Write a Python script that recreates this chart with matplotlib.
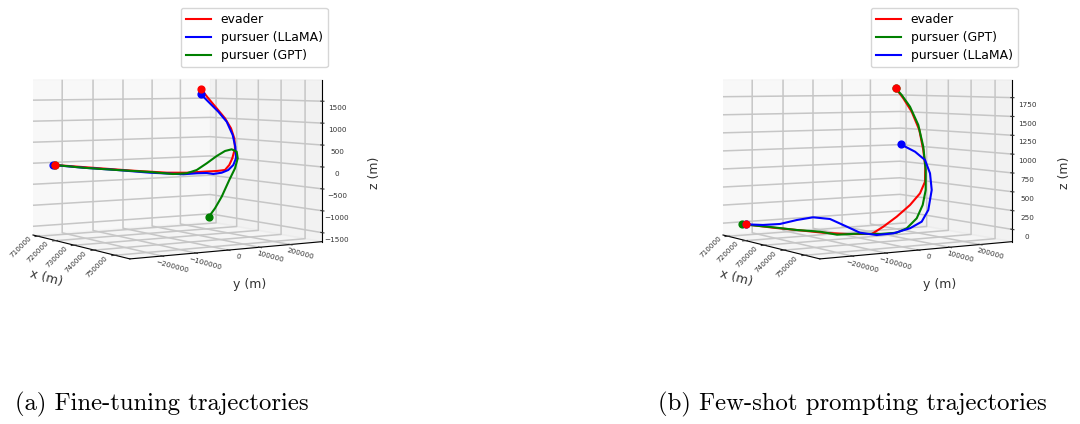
import numpy as np
import matplotlib
matplotlib.use("Agg")
import matplotlib.pyplot as plt

XLIM = (707000, 756700)
YLIM = (-292000, 308000)
ZA = (-1707, 1984)
ZB = (-164, 1984)

x_ticks = [710000, 720000, 730000, 740000, 750000]
y_ticks = [-200000, -100000, 0, 100000, 200000]
z_a = [-1500, -1000, -500, 0, 500, 1000, 1500]
z_b = [0, 250, 500, 750, 1000, 1250, 1500, 1750]

x_17 = [711970, 714455, 716940, 719425, 721910, 724395, 726880, 729365, 731850, 734335, 736820, 739305, 741790, 744275, 746760, 749245, 751730]
x_18 = [711970, 714309, 716648, 718986, 721325, 723664, 726003, 728342, 730680, 733019, 735358, 737697, 740036, 742374, 744713, 747052, 749391, 751730]

a_evader_y = [-250300, -121800, -29400, 68000, 117900, 156200, 185400, 195600, 191800, 183300, 173600, 152200, 122300, 83700, 38300, -6700, -47600]
a_evader_z = [-28, -134, -208, -275, -278, -252, -230, -194, -58, 118, 369, 620, 867, 1111, 1349, 1582, 1792]
a_llama_y = [-255600, -175400, -80000, 13800, 110400, 139800, 157300, 162900, 174400, 179500, 178900, 170300, 150000, 123500, 86000, 41300, -7800, -47600]
a_llama_z = [-26, -103, -176, -259, -317, -289, -274, -285, -244, -167, -35, 139, 427, 714, 1034, 1273, 1507, 1676]
a_gpt_y = [-250300, -175400, -80000, 13800, 75300, 105600, 123000, 140300, 157300, 168200, 173400, 172600, 158100, 131200, 94500, 52200, 13400, -23600]
a_gpt_z = [-28, -103, -176, -242, -298, -277, -190, -21, 161, 289, 339, 293, 155, -56, -297, -642, -866, -1020]

b_evader_y = [-248100, -175300, -115200, -45300, 17700, 83500, 105200, 132800, 159900, 175400, 173600, 155600, 129900, 97900, 54400, 9100, -32900]
b_evader_z = [-3, -59, -96, -142, -167, -174, -65, 79, 246, 415, 586, 803, 1041, 1319, 1569, 1749, 1881]
b_gpt_y = [-258700, -175400, -113400, -52300, -11500, 39200, 100300, 140300, 157300, 174000, 176800, 169200, 151400, 125500, 91300, 46800, 3000, -32900]
b_gpt_z = [1, -54, -98, -128, -170, -159, -170, -152, -83, 63, 258, 476, 762, 1088, 1387, 1635, 1792, 1881]
b_llama_y = [-248100, -207000, -166800, -126700, -89800, -49700, -9600, 17300, 56300, 94900, 133800, 155700, 160100, 153600, 129900, 95500, 45400, -17300]
b_llama_z = [-3, -12, 2, 57, 95, 72, -34, -112, -143, -119, -49, 47, 217, 500, 738, 929, 1053, 1164]

W, H = 1080, 424
fig = plt.figure(figsize=(10.8, 4.24), dpi=100)


def make_proj(ax, dx):
    # camera looking level, lens shifted: vertical edges stay parallel
    def get_proj():
        x0, x1 = ax.get_xlim3d()
        y0, y1 = ax.get_ylim3d()
        z0, z1 = ax.get_zlim3d()
        world = np.array([[1/(x1-x0), 0, 0, -x0/(x1-x0)],
                          [0, 1/(y1-y0), 0, -y0/(y1-y0)],
                          [0, 0, 1/(z1-z0), -z0/(z1-z0)],
                          [0, 0, 0, 1.]])
        den = np.array([-.13, .09, 0, 1.])
        rX = np.array([80., 196., 0, 33.]) + dx*den
        yh, K, t = 75., 160., .97
        rYpx = yh*den + np.array([0, 0, -K*t, K])
        rY = H*den - rYpx
        A2 = ax.transData.inverted().get_matrix()
        r0 = A2[0, 0]*rX + A2[0, 2]*den
        r1 = A2[1, 1]*rY + A2[1, 2]*den
        S = np.array([r0, r1, [0, 0, 0, -1.], den])
        return S @ world
    ax.get_proj = get_proj


def shift(ax, text, dx, dy):
    # move a label by some pixels whenever the 3D axis places it
    place = text.set_position

    def moved(xy):
        m = ax.transData.inverted().get_matrix()
        place((xy[0] + m[0, 0]*dx, xy[1] - m[1, 1]*dy))
    text.set_position = moved


def panel(rect, dx, zlim, zt):
    ax = fig.add_axes([rect[0]/W, 1-(rect[1]+rect[3])/H, rect[2]/W, rect[3]/H], projection='3d')
    ax.patch.set_alpha(0)
    ax.computed_zorder = False
    ax.view_init(elev=10, azim=-28)
    ax.set_xlim(*XLIM)
    ax.set_ylim(*YLIM)
    ax.set_zlim(*zlim)
    ax.set_xticks(x_ticks)
    ax.set_yticks(y_ticks)
    ax.set_zticks(zt)
    ax.tick_params(labelsize=5.2, pad=0, colors='#333333')
    for axis in (ax.xaxis, ax.yaxis, ax.zaxis):
        axis._axinfo['grid'].update(color='#c6c6c6', linewidth=1.1)
        axis.set_rotate_label(False)
    for t in ax.xaxis.get_major_ticks():
        t.label1.set_rotation(45)
        shift(ax, t.label1, -8, -10)
    for t in ax.yaxis.get_major_ticks():
        t.label1.set_rotation(-15)
        shift(ax, t.label1, 4, -7)
    for t in ax.zaxis.get_major_ticks():
        shift(ax, t.label1, 0, 4)
    ax.set_xlabel('x (m)', fontsize=9, labelpad=2, rotation=-15, color='#333333')
    shift(ax, ax.xaxis.label, -2, 5)
    ax.set_ylabel('y (m)', fontsize=9, labelpad=2, rotation=0, color='#333333')
    shift(ax, ax.yaxis.label, 1, 6)
    ax.set_zlabel('z (m)', fontsize=9, labelpad=2, rotation=90, color='#333333')
    shift(ax, ax.zaxis.label, 9, 11)
    make_proj(ax, dx)
    return ax


def draw(ax, series, lx):
    for i, (xs, ys, zs, c, lab) in enumerate(series):
        ax.plot(xs, ys, zs, color=c, lw=1.5, label=lab, zorder=3+i)
        ax.scatter([xs[0], xs[-1]], [ys[0], ys[-1]], [zs[0], zs[-1]], color=c, s=24,
                   depthshade=False, zorder=(12 if c == 'red' else 8+i))
    ax.legend(loc='upper left', bbox_to_anchor=(lx/W, 1-8/H), bbox_transform=fig.transFigure,
              fontsize=8.9, borderaxespad=0, labelspacing=0.42).set_zorder(20)


a = panel((0, 0, 424, 424), 0, ZA, z_a)
b = panel((656, 0, 424, 424), 690, ZB, z_b)
draw(a, [(x_17, a_evader_y, a_evader_z, 'red', 'evader'),
         (x_18, a_llama_y, a_llama_z, 'blue', 'pursuer (LLaMA)'),
         (x_18, a_gpt_y, a_gpt_z, 'green', 'pursuer (GPT)')], 181)
draw(b, [(x_17, b_evader_y, b_evader_z, 'red', 'evader'),
         (x_18, b_gpt_y, b_gpt_z, 'green', 'pursuer (GPT)'),
         (x_18, b_llama_y, b_llama_z, 'blue', 'pursuer (LLaMA)')], 871)
fig.text(15/W, 1-404/H, '(a) Fine-tuning trajectories', family='cmr10', fontsize=17.8, va='center')
fig.text(658/W, 1-404/H, '(b) Few-shot prompting trajectories', family='cmr10', fontsize=17.8, va='center')
fig.savefig('out.png', dpi=100)
